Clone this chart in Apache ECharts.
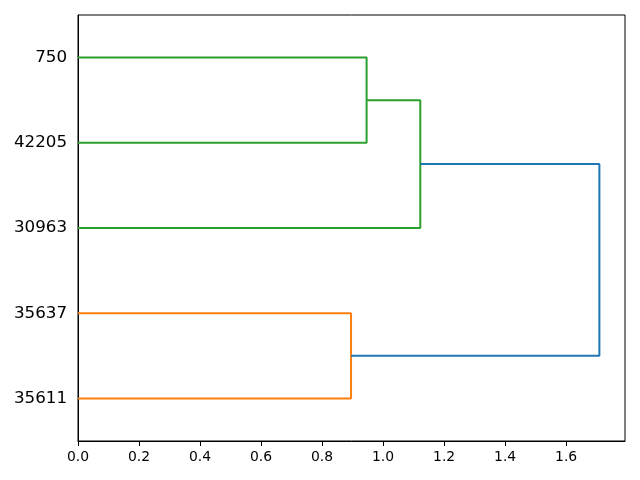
<!DOCTYPE html>
<html>
<head>
<meta charset="utf-8">
<script src="https://cdn.jsdelivr.net/npm/echarts@6/dist/echarts.min.js"></script>
<style>html,body{margin:0;padding:0;background:#fff}#c{width:640px;height:480px}</style>
</head>
<body>
<div id="c"></div>
<script>
// leaf labels, bottom to top
var leaves = ['35611', '35637', '30963', '42205', '750'];
// scipy-style link coordinates: icoord (leaf axis positions), dcoord (distances)
var icoord = [
  [5, 5, 15, 15],
  [35, 35, 45, 45],
  [25, 25, 40, 40],
  [10, 10, 32.5, 32.5]
];
var dcoord = [
  [0, 0.895, 0.895, 0],
  [0, 0.946, 0.946, 0],
  [0, 1.122, 1.122, 0.946],
  [0.895, 1.709, 1.709, 1.122]
];
var linkColors = ['#ff7f0e', '#2ca02c', '#2ca02c', '#1f77b4'];
var xTicks = [0, 0.2, 0.4, 0.6, 0.8, 1.0, 1.2, 1.4, 1.6];

var series = icoord.map(function (ic, i) {
  return {
    type: 'line',
    xAxisIndex: 0,
    yAxisIndex: 0,
    data: ic.map(function (y, j) { return [dcoord[i][j], y]; }),
    symbol: 'none',
    animation: false,
    lineStyle: { color: linkColors[i], width: 2 },
    z: 3
  };
});

var chart = echarts.init(document.getElementById('c'));
chart.setOption({
  backgroundColor: '#fff',
  animation: false,
  grid: { left: 78, right: 15, top: 15, bottom: 39, show: true, borderColor: '#000', borderWidth: 1, containLabel: false, outerBoundsMode: 'none' },
  xAxis: [{
    type: 'value', min: 0, max: 1.793, interval: 0.2,
    axisLine: { show: true, onZero: false, lineStyle: { color: '#000', width: 1 } },
    axisTick: { show: true, length: 5, lineStyle: { color: '#000' } },
    splitLine: { show: false },
    axisLabel: {
      color: '#000', fontSize: 13.9, fontFamily: 'DejaVu Sans', margin: 9,
      showMaxLabel: false,
      formatter: function (v) { return (Math.round(v * 10) / 10).toFixed(1); }
    }
  }],
  yAxis: [{
    type: 'value', min: 0, max: 50, show: false, position: 'right'
  }, {
    type: 'category', data: leaves, boundaryGap: true, position: 'left',
    axisLine: { show: true, lineStyle: { color: '#000', width: 1 } },
    axisTick: { show: false },
    splitLine: { show: false },
    axisLabel: { color: '#000', fontSize: 16.7, fontFamily: 'DejaVu Sans', margin: 11, padding: [4, 0, 0, 0] }
  }],
  series: series
});
</script>
</body>
</html>
